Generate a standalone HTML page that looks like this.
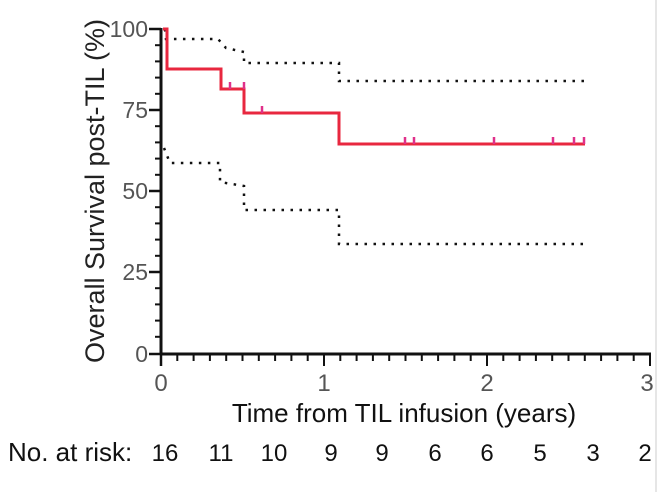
<!DOCTYPE html>
<html><head><meta charset="utf-8"><style>
html,body{margin:0;padding:0;background:#fff;}
svg{display:block;font-family:"Liberation Sans",Arial,sans-serif;}
</style></head><body>
<svg width="661" height="492" viewBox="0 0 661 492" xmlns="http://www.w3.org/2000/svg">
<rect width="661" height="492" fill="#fff"/>
<line x1="656" y1="0" x2="656" y2="492" stroke="#e6e6e6" stroke-width="2"/>
<g stroke="#111" stroke-width="3" fill="none">
<line x1="161" y1="28" x2="161" y2="355"/>
<line x1="160" y1="354" x2="651" y2="354"/>
</g>
<g stroke="#111" stroke-width="2.5">
<line x1="149" y1="29" x2="161" y2="29"/>
<line x1="149" y1="110" x2="161" y2="110"/>
<line x1="149" y1="191" x2="161" y2="191"/>
<line x1="149" y1="272" x2="161" y2="272"/>
<line x1="149" y1="354" x2="161" y2="354"/>
</g>
<g stroke="#111" stroke-width="2" id="ymin"></g>
<g stroke="#111" stroke-width="2" id="xmin"></g>
<script>
(function(){
var ns="http://www.w3.org/2000/svg";
var ym=document.getElementById("ymin");
for(var v=0;v<=100;v+=5){ if(v%25==0) continue; var y=353-v*3.24;
 var l=document.createElementNS(ns,"line");l.setAttribute("x1",155);l.setAttribute("x2",161);l.setAttribute("y1",y);l.setAttribute("y2",y);ym.appendChild(l);}
var xm=document.getElementById("xmin");
for(var i=1;i<=30;i++){ var x=161+i*16.3; var big=(i%10==0);
 var l=document.createElementNS(ns,"line");l.setAttribute("x1",x);l.setAttribute("x2",x);l.setAttribute("y1",354);l.setAttribute("y2",big?366:361);xm.appendChild(l);}
})();
</script>
<line x1="161" y1="354" x2="161" y2="366" stroke="#111" stroke-width="2.5"/>
<g stroke="#111" stroke-width="2.5" fill="none" stroke-dasharray="2.5,6.5">
<polyline points="165,29 166,39 218,39 226,48 244,52 244,63 339,63 339,81 584,81"/>
<polyline points="164,148 170,163 220,163 220,182 244,186 244,210 339,210 339,244 584,244"/>
</g>
<polyline fill="none" stroke="#e8273f" stroke-width="3" points="163,29 167,29 167,69 221,69 221,89 244,89 244,113 339,113 339,144 585,144"/>
<g stroke="#e0308a" stroke-width="2.5">
<line x1="230" y1="82" x2="230" y2="89"/>
<line x1="244" y1="82" x2="244" y2="89"/>
<line x1="262" y1="106" x2="262" y2="113"/>
<line x1="405" y1="137" x2="405" y2="144"/>
<line x1="414" y1="137" x2="414" y2="144"/>
<line x1="494" y1="137" x2="494" y2="144"/>
<line x1="553" y1="137" x2="553" y2="144"/>
<line x1="574" y1="137" x2="574" y2="144"/>
<line x1="584" y1="137" x2="584" y2="144"/>
</g>
<g font-size="23" fill="#555" text-anchor="end">
<text x="148" y="37">100</text>
<text x="148" y="118">75</text>
<text x="148" y="199">50</text>
<text x="148" y="280">25</text>
<text x="148" y="362">0</text>
</g>
<text transform="translate(104,191) rotate(-90)" font-size="27" fill="#222" text-anchor="middle">Overall Survival post-TIL  (%)</text>
<g font-size="24" fill="#555" text-anchor="middle">
<text x="161" y="391">0</text>
<text x="324" y="391">1</text>
<text x="487" y="391">2</text>
<text x="647" y="391">3</text>
</g>
<text x="404" y="422" font-size="26" fill="#111" text-anchor="middle">Time from TIL infusion (years)</text>
<text x="8" y="461" font-size="26" fill="#111">No. at risk:</text>
<g font-size="24" fill="#111" text-anchor="middle">
<text x="165" y="461">16</text>
<text x="221" y="461">11</text>
<text x="274" y="461">10</text>
<text x="331" y="461">9</text>
<text x="382" y="461">9</text>
<text x="435" y="461">6</text>
<text x="487" y="461">6</text>
<text x="540" y="461">5</text>
<text x="593" y="461">3</text>
<text x="645" y="461">2</text>
</g>
</svg>
</body></html>
